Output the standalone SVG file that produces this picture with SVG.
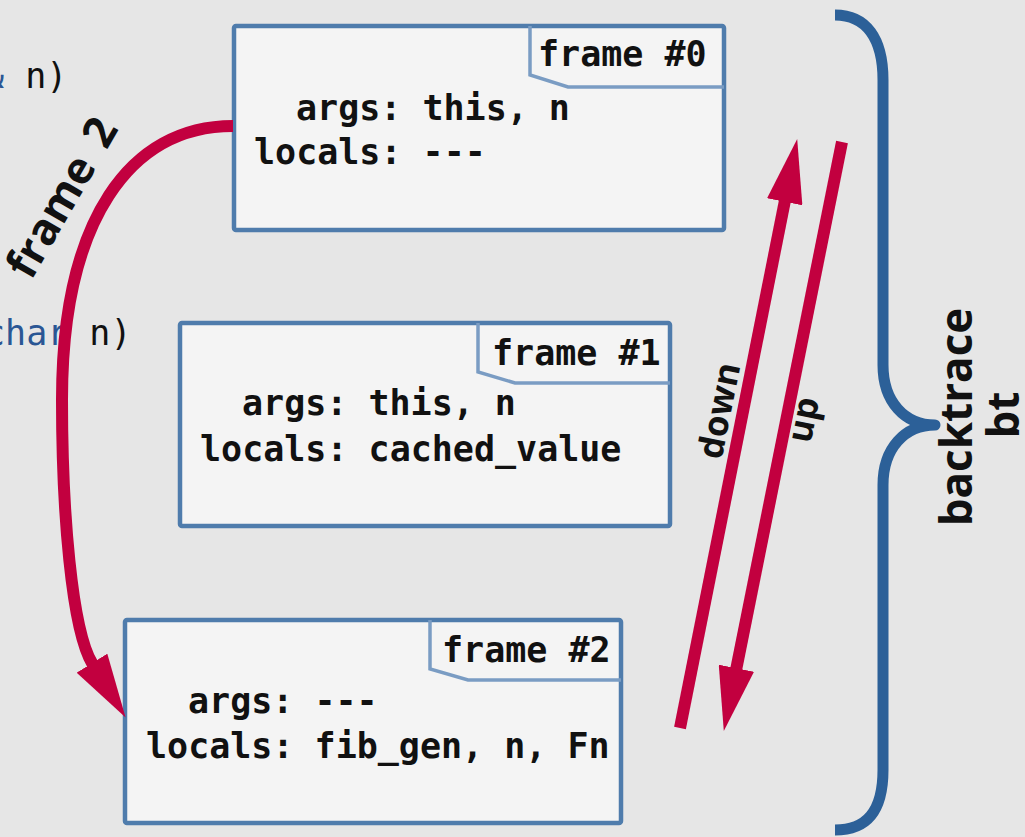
<svg xmlns="http://www.w3.org/2000/svg" width="1025" height="837" viewBox="0 0 1025 837">
<defs>
<style>
.bg{fill:#e6e6e6}
.box{fill:#f4f4f4;stroke:#4f7cac;stroke-width:4.5}
.tab{fill:none;stroke:#7a9cc3;stroke-width:3.5;stroke-linejoin:miter}
.mono{font-family:"DejaVu Sans Mono","Liberation Mono",monospace;font-size:35px;font-weight:bold;fill:#111}
.code{font-family:"DejaVu Sans Mono","Liberation Mono",monospace;font-size:35px;fill:#111}
.type{fill:#2a5694}
.lbl{font-family:"Open Sans","Liberation Sans",sans-serif;font-weight:bold;fill:#111}
.red{fill:none;stroke:#c2003f;stroke-width:12;stroke-linecap:butt}
.brace{fill:none;stroke:#2c6098;stroke-width:11;stroke-linejoin:round}
</style>
<marker id="ah" markerUnits="userSpaceOnUse" viewBox="0 -18 64 36" markerWidth="64" markerHeight="36" refX="1" refY="0" orient="auto">
<path d="M0,-18 L64,0 L0,18 Z" fill="#c2003f"/>
</marker>
</defs>
<rect class="bg" x="0" y="0" width="1025" height="837"/>
<g id="code-bg">
<text class="code" x="-17" y="88"><tspan class="type">&amp;</tspan> n)</text>
<text class="code" x="-16" y="345"><tspan class="type">char</tspan> n)</text>
</g>
<g id="frame0">
<rect class="box" x="234" y="26" width="490" height="204" rx="2"/>
<polyline class="tab" points="530,26 530,75 568,87 724,87"/>
<text class="mono" x="538" y="66">frame #0</text>
<text class="mono" x="296" y="120">args: this, n</text>
<text class="mono" x="254" y="164">locals: ---</text>
</g>
<g id="frame1">
<rect class="box" x="180" y="323" width="490" height="203" rx="2"/>
<polyline class="tab" points="478,323 478,372 515,383 670,383"/>
<text class="mono" x="492" y="365">frame #1</text>
<text class="mono" x="242" y="415">args: this, n</text>
<text class="mono" x="200" y="461">locals: cached_value</text>
</g>
<g id="frame2">
<rect class="box" x="125" y="620" width="496" height="203" rx="2"/>
<polyline class="tab" points="430,620 430,669 468,680 621,680"/>
<text class="mono" x="442" y="662">frame #2</text>
<text class="mono" x="188" y="713">args: ---</text>
<text class="mono" x="146" y="758">locals: fib_gen, n, Fn</text>
</g>
<g id="backtrace">
<path class="brace" d="M835,15 C866,15 883,38 883,80 L883,365 C883,402 905,425 935,425 C905,425 883,448 883,485 L883,770 C883,812 866,830 835,830"/>
<text class="lbl" font-size="44" text-anchor="middle" transform="translate(972,417) rotate(-90)">backtrace</text>
<text class="lbl" font-size="44" text-anchor="middle" transform="translate(1019,415) rotate(-90)">bt</text>
</g>
<g id="connectors">
<path class="red" d="M233,126 C130,126 62,220 62,400 C62,510 71.5,630 92.5,664" marker-end="url(#ah)"/>
<line class="red" x1="680" y1="728" x2="784.9" y2="200.8" marker-end="url(#ah)"/>
<line class="red" x1="842" y1="142" x2="736.2" y2="669.2" marker-end="url(#ah)"/>
<text class="lbl" font-size="44" text-anchor="middle" transform="translate(75,205) rotate(-60)">frame <tspan dx="7">2</tspan></text>
<text class="lbl" font-size="35" text-anchor="middle" transform="translate(731,413) rotate(-78.7)">down</text>
<text class="lbl" font-size="35" text-anchor="middle" transform="translate(815,422) rotate(-78.7)">up</text>
</g>
</svg>
